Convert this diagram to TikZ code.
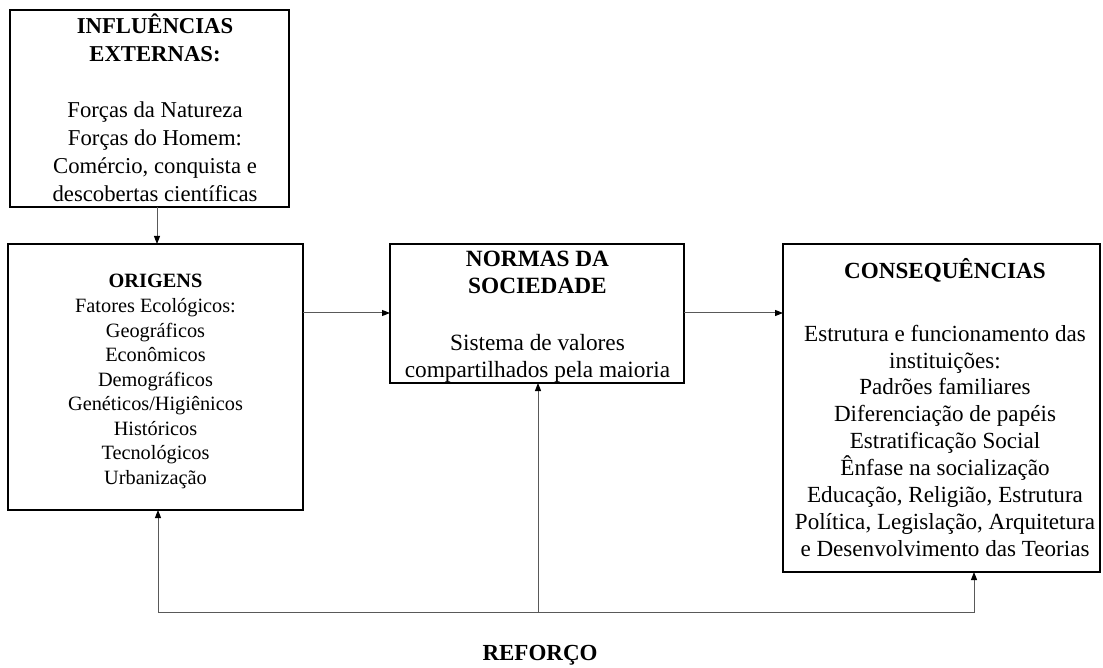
\documentclass[tikz,border=0pt]{standalone}
\usepackage{fontspec}
\setmainfont{Liberation Serif}
\usetikzlibrary{arrows.meta}
\begin{document}
\begin{tikzpicture}[x=1pt,y=-1pt,
  panel/.style={draw=black, line width=2.6pt, inner sep=0pt, outer sep=0pt},
  body/.style={anchor=north, inner sep=0pt, outer sep=0pt, align=center},
  link/.style={draw=black!65, line width=1pt, -{Triangle[length=8pt,width=6pt,color=black]}},
  wire/.style={draw=black!65, line width=1pt}]
\useasboundingbox (0,0) rectangle (1103,668);

% boxes
\node[panel, minimum width=279pt, minimum height=197pt] (ext)  at (149.5,108.5) {};
\node[panel, minimum width=295pt, minimum height=266pt] (orig) at (155.5,377) {};
\node[panel, minimum width=294pt, minimum height=139pt] (norm) at (537,313.5) {};
\node[panel, minimum width=317pt, minimum height=328pt] (cons) at (941.5,408) {};

% box texts
\node[body, font=\fontsize{22.7}{28}\selectfont] (extT) at (155,13.4)
  {\strut\textbf{INFLUÊNCIAS}\\ \textbf{EXTERNAS:}\\[28pt]
   Forças da Natureza\\ Forças do Homem:\\ Comércio, conquista e\\ descobertas científicas};
\node[body, font=\fontsize{20.3}{24.45}\selectfont] (origT) at (155.5,269.9)
  {\strut\textbf{ORIGENS}\\[1.5pt] Fatores Ecológicos:\\ Geográficos\\ Econômicos\\ Demográficos\\
   Genéticos/Higiênicos\\ Históricos\\ Tecnológicos\\ Urbanização};
\node[body, font=\fontsize{23.3}{27}\selectfont] (normT) at (537.5,247.1)
  {\strut\textbf{NORMAS DA}\\ \textbf{SOCIEDADE}\\[30pt]
   Sistema de valores\\ compartilhados pela maioria};
\node[body, font=\fontsize{23.1}{26.9}\selectfont] (consT) at (945,258.2)
  {\strut\textbf{CONSEQUÊNCIAS}\\[36pt]
   Estrutura e funcionamento das\\ instituições:\\ Padrões familiares\\ Diferenciação de papéis\\
   Estratificação Social\\ Ênfase na socialização\\ Educação, Religião, Estrutura\\
   Política, Legislação, Arquitetura\\ e Desenvolvimento das Teorias};

% label of the feedback loop
\node[anchor=base, inner sep=0pt, font=\fontsize{23}{27}\selectfont\bfseries] (fbT) at (540,660) {REFORÇO};

% forward connectors
\coordinate (rowA) at (0,313);
\draw[link] ([xshift=7.5pt]ext.south) -- ([xshift=7.5pt]ext.south |- orig.north);
\draw[link] (orig.east |- rowA) -- (norm.west |- rowA);
\draw[link] (norm.east |- rowA) -- (cons.west |- rowA);

% feedback connectors
\coordinate (fb)  at (538,612);
\coordinate (fbL) at (158,612);
\coordinate (fbR) at (974,612);
\draw[link] (fb) -- (fb |- norm.south);
\draw[link] (fb) -- (fbL) -- (fbL |- orig.south);
\draw[link] (fb) -- (fbR) -- (fbR |- cons.south);
\end{tikzpicture}
\end{document}
